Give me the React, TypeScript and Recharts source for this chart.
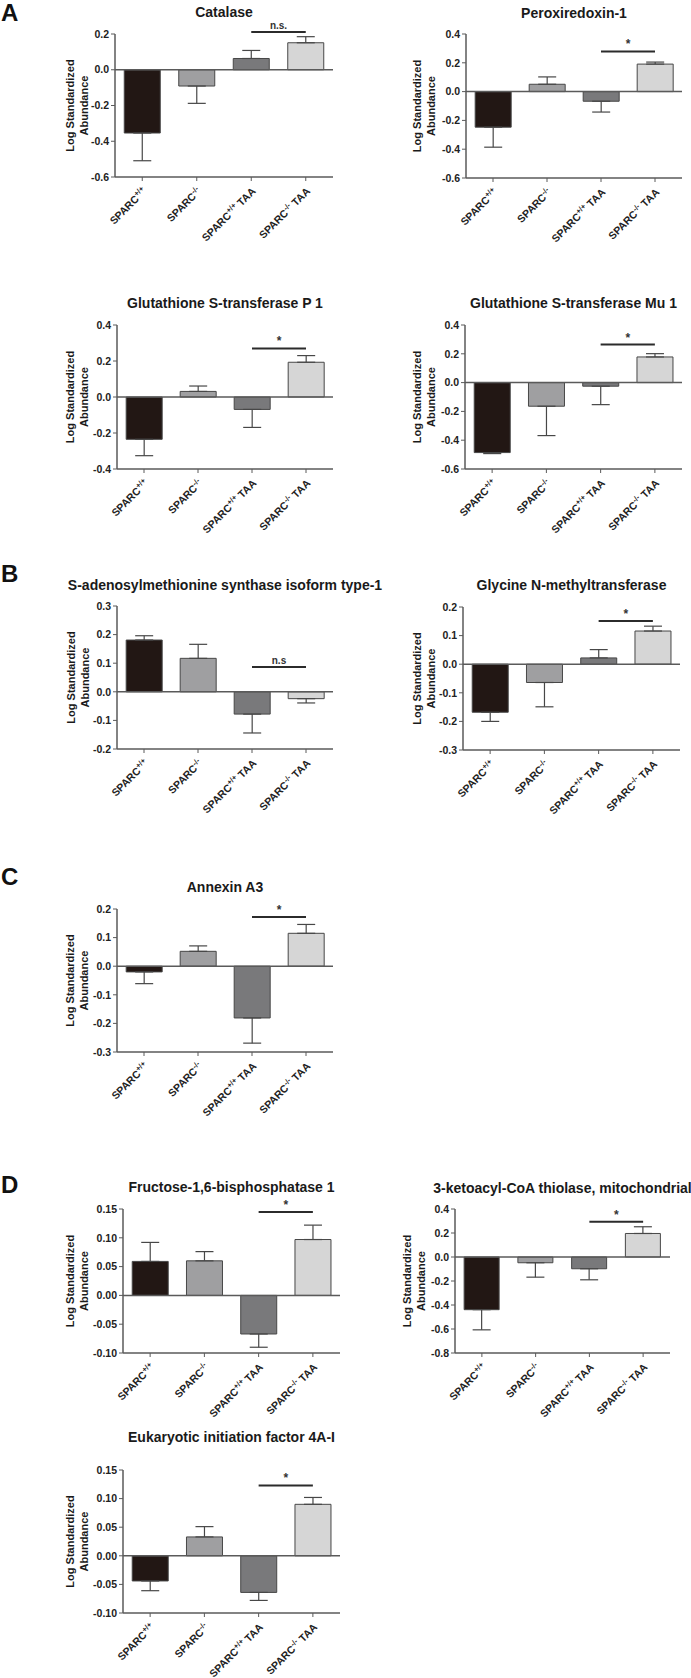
import React from "react";
import { BarChart, Bar, Cell, XAxis, YAxis, ErrorBar, ReferenceLine } from "recharts";

// groups on the x axis (superscript part parsed out when drawing)
const categories = ["SPARC+/+", "SPARC-/-", "SPARC+/+ TAA", "SPARC-/- TAA"];

// values: mean and one-sided error (SEM)
const catalaseMean = [-0.354, -0.091, 0.063, 0.151];
const catalaseSem = [0.155, 0.097, 0.045, 0.034];
const catalaseTicks = [-0.6, -0.4, -0.2, 0, 0.2];

const prxMean = [-0.247, 0.051, -0.067, 0.191];
const prxSem = [0.139, 0.051, 0.075, 0.014];
const prxTicks = [-0.6, -0.4, -0.2, 0, 0.2, 0.4];

const gstp1Mean = [-0.235, 0.031, -0.069, 0.193];
const gstp1Sem = [0.091, 0.03, 0.1, 0.037];
const gstp1Ticks = [-0.4, -0.2, 0, 0.2, 0.4];

const gstmu1Mean = [-0.486, -0.164, -0.025, 0.178];
const gstmu1Sem = [0.007, 0.204, 0.128, 0.023];
const gstmu1Ticks = [-0.6, -0.4, -0.2, 0, 0.2, 0.4];

const samMean = [0.181, 0.117, -0.078, -0.024];
const samSem = [0.015, 0.049, 0.066, 0.015];
const samTicks = [-0.2, -0.1, 0, 0.1, 0.2, 0.3];

const gnmtMean = [-0.168, -0.064, 0.022, 0.116];
const gnmtSem = [0.032, 0.085, 0.029, 0.017];
const gnmtTicks = [-0.3, -0.2, -0.1, 0, 0.1, 0.2];

const anxa3Mean = [-0.02, 0.052, -0.181, 0.115];
const anxa3Sem = [0.041, 0.019, 0.088, 0.031];
const anxa3Ticks = [-0.3, -0.2, -0.1, 0, 0.1, 0.2];

const fbpMean = [0.059, 0.06, -0.067, 0.097];
const fbpSem = [0.033, 0.016, 0.023, 0.025];
const fbpTicks = [-0.1, -0.05, 0, 0.05, 0.1, 0.15];

const thiolaseMean = [-0.439, -0.048, -0.098, 0.196];
const thiolaseSem = [0.168, 0.12, 0.092, 0.056];
const thiolaseTicks = [-0.8, -0.6, -0.4, -0.2, 0, 0.2, 0.4];

const eifMean = [-0.044, 0.033, -0.064, 0.09];
const eifSem = [0.017, 0.018, 0.014, 0.012];
const eifTicks = [-0.1, -0.05, 0, 0.05, 0.1, 0.15];

const FONT = '"Liberation Sans", Arial, sans-serif';
const AXIS = "#5a5a5a";
const OUTLINE = "#474747";
const barColors = ["#221714", "#9f9fa1", "#79797b", "#d6d6d6"];

const YW = 50;
const MT = 30;
const MR = 10;
const XH = 80;

// rotated group label with the genotype as a superscript
const CategoryTick = (props: any) => {
  const { x, y, payload } = props;
  const m = /^SPARC(\S+)( TAA)?$/.exec(String(payload.value)) || ["", "", ""];
  const px = Number(x) + 5;
  const py = Number(y) + 9;
  return (
    <g transform={`translate(${px},${py})`}>
      <text
        x={0}
        y={0}
        transform="rotate(-45)"
        textAnchor="end"
        fontSize={10.5}
        fontWeight="bold"
        fill="#222"
        fontFamily={FONT}
      >
        SPARC
        <tspan fontSize={7.5} dy={-4}>
          {m[1]}
        </tspan>
        {m[2] ? <tspan dy={4}>{m[2]}</tspan> : null}
      </text>
    </g>
  );
};

interface Layout {
  axisX: number;
  right: number;
  top: number;
  bottom: number;
  ylabX: number;
  titleY: number;
}

interface PanelProps {
  title: string;
  means: number[];
  sems: number[];
  ticks: number[];
  digits: number;
  sigY: number;
  sigText: string;
  layout: Layout;
}

const Panel = ({ title, means, sems, ticks, digits, sigY, sigText, layout }: PanelProps) => {
  const data = categories.map((name, i) => ({
    name,
    value: means[i],
    err: means[i] >= 0 ? [0, sems[i]] : [sems[i], 0],
  }));
  const pw = layout.right - layout.axisX;
  const ph = layout.bottom - layout.top;
  const cx = (layout.axisX + layout.right) / 2;
  const cy = (layout.top + layout.bottom) / 2;
  return (
    <>
      <div style={{ position: "absolute", left: layout.axisX - YW, top: layout.top - MT }}>
        <BarChart
          width={YW + pw + MR}
          height={MT + ph + XH}
          data={data}
          margin={{ top: MT, right: MR, bottom: 0, left: 0 }}
          barCategoryGap="17%"
        >
          <XAxis
            dataKey="name"
            height={XH}
            interval={0}
            tick={CategoryTick}
            tickSize={4}
            axisLine={{ stroke: AXIS, strokeWidth: 1.5 }}
            tickLine={{ stroke: AXIS }}
          />
          <YAxis
            type="number"
            width={YW}
            domain={[ticks[0], ticks[ticks.length - 1]]}
            ticks={ticks}
            interval={0}
            allowDataOverflow
            tickFormatter={(v: number) => v.toFixed(digits)}
            tick={{ fontSize: 10.5, fontWeight: "bold", fill: "#222", fontFamily: FONT }}
            tickSize={4}
            tickMargin={2}
            axisLine={{ stroke: AXIS, strokeWidth: 1.5 }}
            tickLine={{ stroke: AXIS }}
          />
          <ReferenceLine y={0} stroke={AXIS} strokeWidth={1.5} />
          <Bar dataKey="value" isAnimationActive={false} stroke={OUTLINE} strokeWidth={1}>
            {data.map((d, i) => (
              <Cell key={d.name} fill={barColors[i]} />
            ))}
            <ErrorBar dataKey="err" width={9} stroke={OUTLINE} strokeWidth={1.2} direction="y" />
          </Bar>
          <ReferenceLine
            segment={[
              { x: categories[2], y: sigY },
              { x: categories[3], y: sigY },
            ]}
            stroke="#2b2b2b"
            strokeWidth={2}
            ifOverflow="visible"
            label={{
              value: sigText,
              position: "top",
              offset: 3,
              fontSize: sigText === "*" ? 12 : 10,
              fontWeight: "bold",
              fill: "#333",
              fontFamily: FONT,
            }}
          />
        </BarChart>
      </div>
      <svg
        width={691}
        height={1678}
        style={{ position: "absolute", left: 0, top: 0, pointerEvents: "none" }}
      >
        <text x={cx} y={layout.titleY} textAnchor="middle" fontSize={14} fontWeight="bold" fill="#1a1a1a" fontFamily={FONT}>
          {title}
        </text>
        <text transform={`translate(${layout.ylabX + 4},${cy}) rotate(-90)`} textAnchor="middle" fontSize={11} fontWeight="bold" fill="#1a1a1a" fontFamily={FONT}>
          Log Standardized
        </text>
        <text transform={`translate(${layout.ylabX + 17.5},${cy}) rotate(-90)`} textAnchor="middle" fontSize={11} fontWeight="bold" fill="#1a1a1a" fontFamily={FONT}>
          Abundance
        </text>
      </svg>
    </>
  );
};

const letters = [
  { t: "A", y: 21 },
  { t: "B", y: 582 },
  { t: "C", y: 885 },
  { t: "D", y: 1193 },
];

const App = () => (
  <div
    style={{
      position: "absolute",
      left: 0,
      top: 0,
      width: 691,
      height: 1678,
      background: "#fff",
      fontFamily: FONT,
      overflow: "hidden",
    }}
  >
    <Panel title="Catalase" means={catalaseMean} sems={catalaseSem} ticks={catalaseTicks} digits={1} sigY={0.211} sigText="n.s."
      layout={{ axisX: 115, right: 333, top: 34, bottom: 177, ylabX: 70, titleY: 17 }} />
    <Panel title="Peroxiredoxin-1" means={prxMean} sems={prxSem} ticks={prxTicks} digits={1} sigY={0.279} sigText="*"
      layout={{ axisX: 466, right: 682, top: 34, bottom: 178, ylabX: 417, titleY: 18 }} />
    <Panel title="Glutathione S-transferase P 1" means={gstp1Mean} sems={gstp1Sem} ticks={gstp1Ticks} digits={1} sigY={0.27} sigText="*"
      layout={{ axisX: 117, right: 333, top: 325, bottom: 469, ylabX: 70, titleY: 308 }} />
    <Panel title="Glutathione S-transferase Mu 1" means={gstmu1Mean} sems={gstmu1Sem} ticks={gstmu1Ticks} digits={1} sigY={0.264} sigText="*"
      layout={{ axisX: 465, right: 682, top: 325, bottom: 469, ylabX: 417, titleY: 308 }} />
    <Panel title="S-adenosylmethionine synthase isoform type-1" means={samMean} sems={samSem} ticks={samTicks} digits={1} sigY={0.087} sigText="n.s"
      layout={{ axisX: 117, right: 333, top: 606, bottom: 749, ylabX: 71, titleY: 590 }} />
    <Panel title="Glycine N-methyltransferase" means={gnmtMean} sems={gnmtSem} ticks={gnmtTicks} digits={1} sigY={0.151} sigText="*"
      layout={{ axisX: 463, right: 680, top: 607, bottom: 750, ylabX: 417, titleY: 590 }} />
    <Panel title="Annexin A3" means={anxa3Mean} sems={anxa3Sem} ticks={anxa3Ticks} digits={1} sigY={0.172} sigText="*"
      layout={{ axisX: 117, right: 333, top: 909, bottom: 1052, ylabX: 70, titleY: 892 }} />
    <Panel title="Fructose-1,6-bisphosphatase 1" means={fbpMean} sems={fbpSem} ticks={fbpTicks} digits={2} sigY={0.145} sigText="*"
      layout={{ axisX: 123, right: 340, top: 1209, bottom: 1353, ylabX: 70, titleY: 1192 }} />
    <Panel title="3-ketoacyl-CoA thiolase, mitochondrial" means={thiolaseMean} sems={thiolaseSem} ticks={thiolaseTicks} digits={1} sigY={0.294} sigText="*"
      layout={{ axisX: 455, right: 670, top: 1209, bottom: 1353, ylabX: 407, titleY: 1193 }} />
    <Panel title="Eukaryotic initiation factor 4A-I" means={eifMean} sems={eifSem} ticks={eifTicks} digits={2} sigY={0.123} sigText="*"
      layout={{ axisX: 123, right: 340, top: 1470, bottom: 1613, ylabX: 70, titleY: 1442 }} />
    <svg width={691} height={1678} style={{ position: "absolute", left: 0, top: 0, pointerEvents: "none" }}>
      {letters.map((l) => (
        <text key={l.t} x={1} y={l.y} fontSize={24} fontWeight="bold" fill="#111" fontFamily={FONT}>
          {l.t}
        </text>
      ))}
    </svg>
  </div>
);

export default App;
